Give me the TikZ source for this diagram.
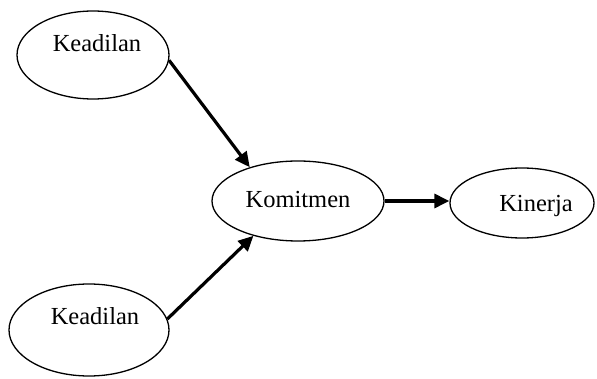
\documentclass[tikz,border=0pt]{standalone}
\usepackage{fontspec}
\setmainfont{Liberation Serif}
\usetikzlibrary{shapes.geometric,arrows.meta}
\begin{document}
\begin{tikzpicture}[x=1pt,y=-1pt,
  oval/.style={ellipse,draw,line width=1.3pt,inner sep=0pt},
  lbl/.style={anchor=base,font=\fontsize{24.5}{28}\selectfont,inner sep=0pt},
  link/.style={line width=3.2pt,-{Triangle[length=15pt,width=14pt]}}]
\useasboundingbox (0,0) rectangle (597,379);
% variables
\node[oval,minimum width=152pt,minimum height=88pt] (k1) at (93,55) {};
\node[oval,minimum width=172pt,minimum height=80pt] (k2) at (298,201) {};
\node[oval,minimum width=144pt,minimum height=70pt] (k3) at (522,203) {};
\node[oval,minimum width=160pt,minimum height=92pt] (k4) at (89,330) {};
% labels
\node[lbl] (t1) at (97,52) {Keadilan};
\node[lbl] (t2) at (298,208) {Komitmen};
\node[lbl] (t3) at (536,212) {Kinerja};
\node[lbl] (t4) at (95,324) {Keadilan};
% paths
\draw[link] (k1.-4) -- (k2.145);
\draw[link] (k4.8) -- (k2.218);
\draw[link] (k2.east) -- (k2.east -| k3.west);
\end{tikzpicture}
\end{document}
